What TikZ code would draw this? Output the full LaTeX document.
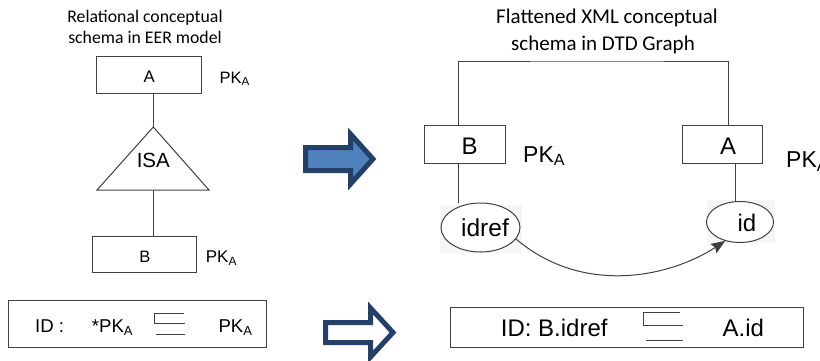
\documentclass[tikz,border=0pt]{standalone}
\usepackage{fontspec}
\setmainfont{Liberation Sans}
\newfontfamily\titlefont{Carlito}
\usetikzlibrary{arrows.meta,shapes.geometric}

\definecolor{edge}{RGB}{64,64,64}
\definecolor{navy}{RGB}{36,64,104}
\definecolor{steelblue}{RGB}{79,129,189}
\definecolor{haze}{RGB}{245,245,245}

% font size in pt, line height equal to it
\newcommand\fsz[1]{\fontsize{#1}{#1}\selectfont}
\newcommand\pkA{PK\textsubscript{A}}

\begin{document}
\begin{tikzpicture}[x=1pt,y=-1pt,
  box/.style={draw=edge, line width=1pt, inner sep=0pt, rectangle},
  oval/.style={draw=edge, fill=white, line width=1pt, inner sep=0pt, ellipse},
  conn/.style={draw=edge, line width=1pt},
  txt/.style={inner sep=0pt, anchor=base},
  txtw/.style={inner sep=0pt, anchor=base west},
  bigarrow/.style={draw=navy, line width=5pt, line join=miter},
]
\useasboundingbox (0,0) rectangle (820,360);

% ---------- left: EER model ----------
\node[txt, font=\titlefont\fsz{17.75}] (ltitle1) at (145,22.3) {Relational conceptual};
\node[txt, font=\titlefont\fsz{17.75}] (ltitle2) at (145,43.3) {schema in EER model};

\node[box, minimum width=104.3pt, minimum height=37.3pt] (eerA) at (148.85,74.65) {};
\node[txt, font=\fsz{16.8}] (eerAtxt) at (149.3,82.7) {A};
\node[txtw, font=\fsz{16.5}] (eerApk) at (219.3,83.3) {\pkA};

% ISA triangle
\coordinate (isaTop) at (153.3,127);
\coordinate (isaL) at (97,190);
\coordinate (isaR) at (209,190);
\coordinate (isaBase) at (153.3,190);
\draw[conn] (isaTop) -- (isaR) -- (isaL) -- cycle;
\node[txt, font=\fsz{20.5}] (isatxt) at (153.3,167) {ISA};

\node[box, minimum width=103.7pt, minimum height=36.7pt] (eerB) at (144.15,254.35) {};
\node[txt, font=\fsz{16.5}] (eerBtxt) at (145,262.7) {B};
\node[txtw, font=\fsz{17}] (eerBpk) at (205.7,262.7) {\pkA};

\draw[conn] (eerA.south -| isaTop) -- (isaTop);
\draw[conn] (isaBase) -- (eerB.north -| isaBase);

% left constraint
\node[box, minimum width=258.4pt, minimum height=47.7pt] (lcons) at (137.5,323.85) {};
\node[txtw, font=\fsz{18.6}] (lid) at (35,332.3) {ID :};
\node[txtw, font=\fsz{18.6}] (lpk1) at (91.7,332.3) {*\pkA};
\node[txtw, font=\fsz{18.6}] (lpk2) at (218.3,332.3) {\pkA};
\draw[edge, line width=1pt] (184,313.3) -- (154,313.3) -- (154,323.3) -- (185,323.3);
\draw[edge, line width=1pt] (156,334.3) -- (185,334.3);

% ---------- transformation arrows ----------
\draw[bigarrow, fill=steelblue]
  (305.5,147.5) -- (350.5,147.5) -- (350.5,134) -- (373,159)
  -- (350.5,184) -- (350.5,170.5) -- (305.5,170.5) -- cycle;
\draw[bigarrow, fill=white]
  (325.5,322.5) -- (370.5,322.5) -- (370.5,308) -- (393,332.5)
  -- (370.5,357) -- (370.5,342.5) -- (325.5,342.5) -- cycle;

% ---------- right: DTD graph ----------
\node[txt, font=\titlefont\fsz{21}] (rtitle1) at (607,23) {Flattened XML conceptual};
\node[txt, font=\titlefont\fsz{21}] (rtitle2) at (603,50) {schema in DTD Graph};

\node[box, minimum width=81.1pt, minimum height=38pt] (dtdB) at (465.35,144) {};
\node[txt, font=\fsz{24}] (dtdBtxt) at (469.7,154) {B};
\node[txtw, font=\fsz{23}] (dtdBpk) at (523,162) {\pkA};

\node[box, minimum width=80pt, minimum height=38pt] (dtdA) at (722.7,144) {};
\node[txt, font=\fsz{24}] (dtdAtxt) at (728,154) {A};
\node[txtw, font=\fsz{23}] (dtdApk) at (786,167.3) {\pkA};

\coordinate (brkTop) at (600,61);
\coordinate (bLine) at (458.6,0);
\coordinate (aLine) at (728.3,0);
\draw[conn] (dtdB.north -| bLine) |- (brkTop) -| (dtdA.north -| aLine);

% soft backdrops of the attribute ovals
\fill[haze] (440,205) rectangle (522,253.3);
\fill[haze] (707,200) rectangle (775,243);

\node[oval, minimum width=79pt, minimum height=49pt] (idref) at (480.5,227.5) {};
\node[txt, font=\fsz{24.5}] (idreftxt) at (485,236) {idref};
\node[oval, minimum width=67pt, minimum height=41pt] (id) at (740,222) {};
\node[txt, font=\fsz{24}] (idtxt) at (747,231.7) {id};

\coordinate (bDrop) at (458.6,0);
\coordinate (aDrop) at (735.5,0);
\draw[conn] (dtdB.south -| bDrop) -- (idref.north -| bDrop);
\draw[conn] (dtdA.south -| aDrop) -- (id.north -| aDrop);

\draw[conn, -{Stealth[length=14pt,width=11pt,inset=2pt]}]
  (idref.-18) .. controls (583,295.7) and (669.4,277.3) .. (id.232);

% right constraint
\node[box, minimum width=353pt, minimum height=40.3pt] (rcons) at (626.5,327.15) {};
\node[txtw, font=\fsz{24}] (rid) at (500.7,336.7) {ID: B.idref};
\node[txtw, font=\fsz{24}] (raid) at (722.4,336.7) {A.id};
\draw[edge, line width=1pt] (680,312.7) -- (643.8,312.7) -- (643.8,325) -- (682.8,325);
\draw[edge, line width=1pt] (646,340.7) -- (682.8,340.7);
\end{tikzpicture}
\end{document}
